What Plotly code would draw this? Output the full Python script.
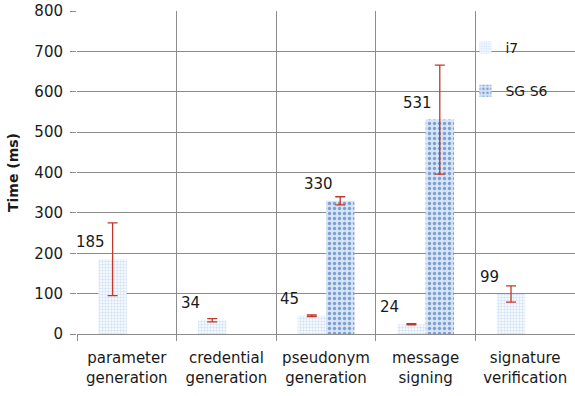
import plotly.graph_objects as go

# Timing results per operation (ms)
categories = ["parameter<br>generation", "credential<br>generation", "pseudonym<br>generation",
              "message<br>signing", "signature<br>verification"]
i7_times = [185, 34, 45, 24, 99]
i7_err = [90, 4, 2, 1.5, 20]
s6_times = [None, None, 330, 531, None]
s6_err = [0, 0, 10, 135, 0]
y_ticks = [0, 100, 200, 300, 400, 500, 600, 700, 800]

x_pos = [i + 0.5 for i in range(len(categories))]
FONT = "DejaVu Sans"
TXT = "#1a1a1a"
ERR = "#c0392b"
GRID = "#8c8c8c"

fig = go.Figure()
fig.add_trace(go.Bar(
    name="i7", x=x_pos, y=i7_times, legendgroup="a",
    marker=dict(color="white", line=dict(width=0),
                pattern=dict(shape=".", fgcolor="#a8c6ee", bgcolor="white", size=3, solidity=0.5)),
    error_y=dict(type="data", array=i7_err, visible=True, color=ERR, thickness=1.3, width=5),
))
fig.add_trace(go.Bar(
    name="SG S6", x=x_pos, y=s6_times, legendgroup="b",
    marker=dict(color="#d6e4f6", line=dict(width=0),
                pattern=dict(shape=".", fgcolor="#1f5aad", bgcolor="#d6e4f6", size=5, solidity=0.35)),
    error_y=dict(type="data", array=s6_err, visible=True, color=ERR, thickness=1.3, width=5),
))

# value labels: above and left of each bar
group_w = 0.57
for series_idx, vals in enumerate([i7_times, s6_times]):
    for i, v in enumerate(vals):
        if v is None:
            continue
        bx = x_pos[i] - group_w / 2 + group_w / 4 + series_idx * group_w / 2
        fig.add_annotation(x=bx, y=v, text=str(v), showarrow=False,
                           xshift=-22, yshift=17,
                           font=dict(family=FONT, size=15, color=TXT))

fig.update_layout(
    width=575, height=396,
    margin=dict(l=77, r=0, t=11, b=62),
    paper_bgcolor="white", plot_bgcolor="white",
    barmode="group", bargap=0.43, bargroupgap=0,
    font=dict(family=FONT, color=TXT),
    legend=dict(x=0.78, y=0.935, xanchor="left", yanchor="top",
                bgcolor="rgba(0,0,0,0)", font=dict(size=14, family=FONT, color=TXT),
                tracegroupgap=22, itemwidth=30),
    showlegend=True,
)
fig.update_xaxes(
    range=[0, 5], tickvals=x_pos, ticktext=categories, ticks="",
    showgrid=False, showline=True, linecolor=GRID, linewidth=1,
    tickfont=dict(family=FONT, size=15, color=TXT), ticklabelstandoff=10,
    minor=dict(tickvals=[0, 1, 2, 3, 4, 5], showgrid=True, gridcolor=GRID, gridwidth=1,
               ticks="outside", ticklen=6, tickcolor=GRID),
    zeroline=False,
)
fig.update_yaxes(
    range=[0, 800], tickvals=y_ticks, showgrid=True, gridcolor=GRID, gridwidth=1,
    ticks="outside", ticklen=6, tickcolor=GRID, showline=False,
    tickfont=dict(family=FONT, size=15, color=TXT), ticklabelstandoff=4,
    title=dict(text="<b>Time (ms)</b>", font=dict(family=FONT, size=14, color=TXT), standoff=12),
    zeroline=False,
)
fig.write_html("out.html")
